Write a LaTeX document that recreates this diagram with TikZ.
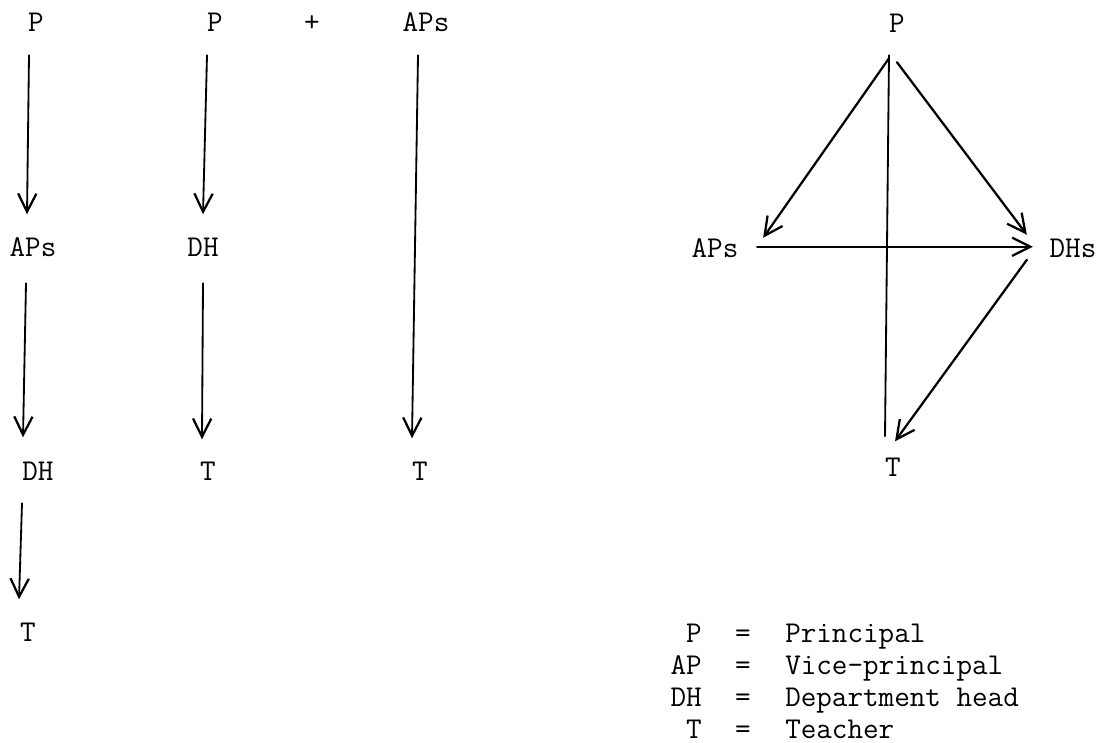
\documentclass[tikz,border=0pt]{standalone}
\usepackage{fontspec}
\usepackage{tikz}
\usetikzlibrary{arrows.meta}

\begin{document}
\begin{tikzpicture}[x=0.025cm,y=-0.025cm,line cap=round,
  >={Straight Barb[length=13pt,width=13pt,line width=1.6pt]},
  font=\fontsize{21.5}{24}\selectfont\ttfamily,
  lbl/.style={inner sep=0pt,text height=13.1pt,text depth=0pt,anchor=base},
  arr/.style={->,line width=1.3pt},
  darr/.style={->,line width=1.6pt}]
\useasboundingbox (0,0) rectangle (1113,743);
% first chain
\node[lbl] (p1) at (36,31) {P};
\node[lbl] (aps1) at (33,256) {APs};
\node[lbl] (dh1) at (38,480) {DH};
\node[lbl] (t1) at (28,641) {T};
\draw[arr] ([shift={(-7,24)}]p1.south) -- ([shift={(-6,-23)}]aps1.north);
\draw[arr] ([shift={(-7,27)}]aps1.south) -- ([shift={(-15,-24)}]dh1.north);
\draw[arr] ([shift={(-16,23)}]dh1.south) -- ([shift={(-9,-23)}]t1.north);
% second chain
\node[lbl] (p2) at (215,31) {P};
\node[lbl] (plus) at (312,31) {+};
\node[lbl] (aps3) at (426,31) {APs};
\node[lbl] (dh2) at (203,256) {DH};
\node[lbl] (t2) at (208,480) {T};
\node[lbl] (t3) at (420,480) {T};
\draw[arr] ([shift={(-8,24)}]p2.south) -- ([shift={(0,-23)}]dh2.north);
\draw[arr] ([shift={(0,27)}]dh2.south) -- ([shift={(-6,-22)}]t2.north);
\draw[arr] ([shift={(-8,24)}]aps3.south) -- ([shift={(-8,-23)}]t3.north);
% triangle
\node[lbl] (rp) at (897,32) {P};
\node[lbl] (raps) at (715,257) {APs};
\node[lbl] (rdhs) at (1073,257) {DHs};
\node[lbl] (rt) at (893,476) {T};
\draw[line width=1.3pt] ([shift={(-8,23)}]rp.south) -- ([shift={(-8,-21)}]rt.north);
\draw[darr] ([shift={(-8,26)}]rp.south) -- ([shift={(24.5,-10)}]raps.east);
\draw[darr] ([shift={(0,30)}]rp.south) -- ([shift={(-22.5,-13)}]rdhs.west);
\draw[arr] ([shift={(18.5,-1)}]raps.east) -- ([shift={(-16.5,-1)}]rdhs.west);
\draw[darr] ([shift={(-22.5,12)}]rdhs.west) -- ([shift={(2,-16)}]rt.north);
% key
\node[lbl,anchor=base east] (kp) at (702,642) {P};
\node[lbl,anchor=base east] (kap) at (702,674) {AP};
\node[lbl,anchor=base east] (kdh) at (702,706) {DH};
\node[lbl,anchor=base east] (kt) at (702,738) {T};
\foreach \y/\n in {642/1,674/2,706/3,738/4}
  \node[lbl] (eq\n) at (743,\y) {=};
\node[lbl,anchor=base west] (dp) at (785,642) {Principal};
\node[lbl,anchor=base west] (dap) at (785,674) {Vice-principal};
\node[lbl,anchor=base west] (ddh) at (785,706) {Department head};
\node[lbl,anchor=base west] (dt) at (785,738) {Teacher};
\end{tikzpicture}
\end{document}
